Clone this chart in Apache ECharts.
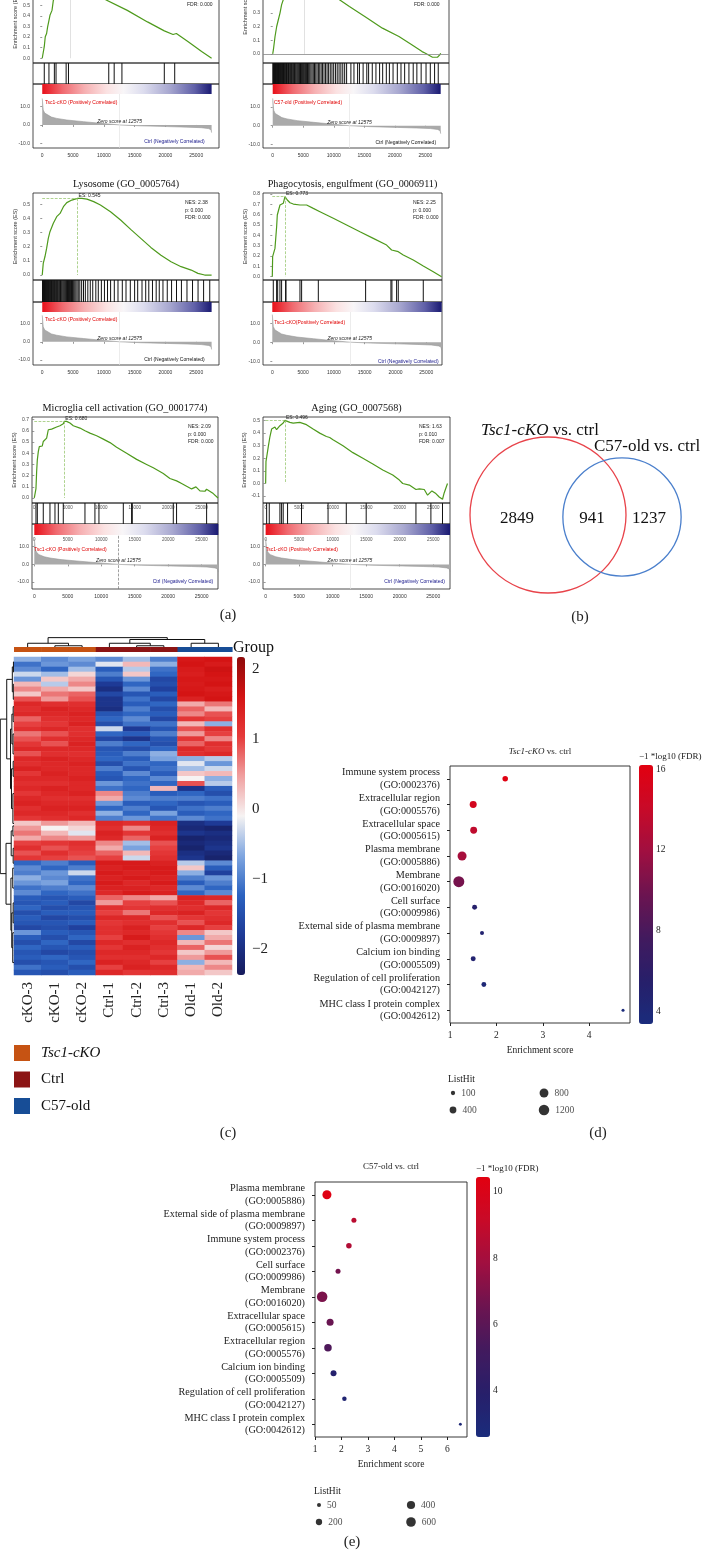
<!DOCTYPE html>
<html><head><meta charset="utf-8">
<script src="https://cdn.jsdelivr.net/npm/echarts@6/dist/echarts.min.js"></script>
<style>html,body{margin:0;padding:0;background:#fff}#c{width:709px;height:1557px}</style>
</head><body><div id="c"></div>
<script>
// ================= DATA =================
// (a) GSEA running enrichment score curves [rank, ES]
const esTscTop = [[0,0],[164,0.01],[328,0.109],[491,0.203],[710,0.234],[874,0.297],[1092,0.359],[1256,0.406],[1420,0.422],[1584,0.453],[1802,0.547],[2400,0.63],[3300,0.68],[4500,0.72],[6000,0.69],[8000,0.625],[10538,0.547],[13812,0.453],[17088,0.344],[19820,0.259],[21240,0.225],[21510,0.216],[21780,0.234],[23700,0.156],[25880,0.063],[27500,0]];
const hitsTscTop = [330,1090,1970,2240,3880,4260,10800,11680,12940,19820,21510];
const esOldTop = [[0,0],[108,0.029],[379,0.127],[650,0.2],[920,0.249],[1190,0.298],[1461,0.359],[1731,0.395],[2500,0.46],[3500,0.51],[5200,0.55],[7000,0.52],[9000,0.46],[10928,0.395],[12551,0.346],[15256,0.268],[17961,0.188],[20666,0.127],[22830,0.066],[24453,0.017],[25000,0.005],[26159,-0.024],[26970,-0.024],[27349,-0.007],[27500,0.005]];
const hitsOldTop = [30,90,150,210,270,330,390,450,520,590,660,730,800,870,940,1010,1090,1170,1250,1330,1410,1500,1590,1680,1770,1860,1960,2060,2160,2260,2370,2480,2590,2700,2820,2940,3060,3180,3300,3430,3560,3690,3820,3960,4100,4250,4400,4550,4700,4860,5020,5180,5350,5520,5700,5880,6060,6250,6440,6640,6840,7050,7260,7480,7700,7930,8160,8400,8650,8900,9150,9420,9700,9980,10270,10560,10860,11160,11470,11780,12100,12800,13300,13900,14200,14800,15400,15700,16300,16900,17500,18000,18600,19100,19700,20400,21000,21600,22300,23000,23600,24300,25100,25800,26500,27100];
const esLysosome = [[0,0],[164,0.082],[437,0.129],[710,0.188],[983,0.259],[1256,0.306],[1802,0.365],[2348,0.412],[2894,0.435],[3440,0.482],[3986,0.511],[4805,0.529],[5733,0.541],[6443,0.541],[7262,0.536],[8354,0.518],[9446,0.494],[11084,0.447],[12722,0.388],[14360,0.322],[15998,0.259],[17636,0.195],[19274,0.14],[20912,0.094],[22550,0.059],[24188,0.035],[25280,0.012],[26372,0],[27500,0]];
const hitsLysosome = [40,100,160,220,290,360,430,500,570,640,720,800,880,960,1040,1130,1220,1310,1400,1500,1600,1700,1800,1900,2010,2120,2230,2340,2460,2580,2700,2830,2960,3090,3220,3360,3500,3650,3800,3950,4100,4260,4420,4580,4750,4920,5100,5280,5460,5650,5850,6100,6400,6700,7000,7400,7800,8200,8700,9100,9600,10100,10600,11100,11700,12300,13000,13600,14300,15000,15500,16200,16800,17300,17900,18500,19000,19600,20300,21000,21800,22600,23500,24400,25300,26200,27200];
const esPhago = [[0,0],[54,0.194],[271,0.194],[433,0.274],[595,0.274],[703,0.484],[812,0.597],[1136,0.597],[1244,0.694],[1515,0.71],[1786,0.71],[1894,0.726],[2056,0.774],[2218,0.758],[2435,0.742],[2868,0.716],[3409,0.703],[4491,0.694],[5573,0.694],[6655,0.661],[7737,0.629],[8819,0.597],[9901,0.565],[12065,0.5],[14229,0.435],[16393,0.371],[18557,0.306],[19368,0.258],[20450,0.242],[21262,0.21],[22885,0.161],[24508,0.103],[26131,0.048],[27483,0]];
const hitsPhago = [160,700,870,1240,1510,2160,2220,4490,4760,7470,15150,19260,19420,20180,20450,24510];
const esMicroglia = [[0,0],[199,0],[249,0.084],[349,0.234],[448,0.339],[598,0.414],[747,0.459],[946,0.474],[1195,0.465],[1345,0.505],[1594,0.52],[1843,0.535],[2092,0.61],[2341,0.625],[2590,0.616],[2839,0.625],[3337,0.634],[3835,0.646],[4333,0.664],[4482,0.685],[4831,0.685],[5329,0.67],[5827,0.646],[6823,0.625],[7570,0.601],[8317,0.58],[9313,0.556],[10309,0.526],[11305,0.495],[12301,0.453],[13795,0.399],[15289,0.345],[16783,0.3],[17779,0.27],[19273,0.219],[20269,0.174],[21265,0.153],[22012,0.129],[22759,0.105],[23506,0.081],[24153,0.099],[24751,0.063],[25498,0.06],[25747,0.078],[26743,0.039],[27450,0]];
const hitsMicroglia = [250,450,1340,2340,3090,3590,4330,7570,9060,9660,13300,14540,14640,20770,21260,25750];
const esAging = [[0,0],[50,0.173],[248,0.187],[396,0.293],[545,0.307],[644,0.373],[891,0.432],[1139,0.427],[1386,0.448],[1634,0.427],[1881,0.44],[2129,0.459],[2376,0.467],[2624,0.48],[2871,0.501],[3119,0.493],[3614,0.485],[4109,0.48],[5099,0.485],[6089,0.467],[7079,0.432],[8069,0.4],[9059,0.373],[9554,0.365],[10049,0.347],[11534,0.299],[13019,0.245],[14504,0.2],[15989,0.155],[17474,0.107],[18959,0.067],[19949,0.027],[20444,0],[21434,-0.013],[22424,-0.048],[22919,-0.043],[23661,-0.048],[24156,-0.093],[24800,-0.059],[25394,-0.08],[25889,-0.107],[26384,-0.125],[26631,-0.075],[26879,-0.085],[27126,0]];
const hitsAging = [150,540,2130,2380,2620,3270,5350,9310,12030,15000,22420,24650,26380];
// ranked list metric (shared shape) [rank, metric]
const rankMetric = [[0,14.5],[160,8.2],[400,6.5],[710,5.5],[1500,4.3],[2350,3.6],[4000,2.7],[6700,1.8],[9500,0.9],[12575,0],[16000,-0.5],[20400,-0.9],[23500,-1.2],[25800,-1.5],[27000,-2.0],[27400,-2.6],[27500,-4.2]];
const rankTicks = [0,5000,10000,15000,20000,25000];
const statsTscTop = ['NES: 2.30','p: 0.000','FDR: 0.000'];
const statsOldTop = ['NES: 1.80','p: 0.000','FDR: 0.000'];
const statsLysosome = ['NES: 2.38','p: 0.000','FDR: 0.000'];
const statsPhago = ['NES: 2.25','p: 0.000','FDR: 0.000'];
const statsMicroglia = ['NES: 2.09','p: 0.000','FDR: 0.000'];
const statsAging = ['NES: 1.63','p: 0.010','FDR: 0.007'];

// (b) Venn counts
const vennOnlyCKO = 2849, vennBoth = 941, vennOnlyOld = 1237;
const vennLabels = ['Tsc1-cKO', 'C57-old vs. ctrl'];

// (c) heatmap
const hmSamples = ['cKO-3','cKO-1','cKO-2','Ctrl-1','Ctrl-2','Ctrl-3','Old-1','Old-2'];
const hmGroupOf = [0,0,0,1,1,1,2,2];
const groupNames = ['Tsc1-cKO','Ctrl','C57-old'];
const hmScaleTicks = [-2,-1,0,1,2];
const hmRows = [
[-0.6,-0.9,-0.7,-0.9,-0.5,-1.0,1.55,1.6],[-1.1,-0.8,-0.9,-0.2,0.3,-0.6,1.6,1.5],[-0.9,-1.2,-0.5,-1.3,-0.4,-1.1,1.5,1.65],[-0.3,-0.5,0.1,-1.0,0.2,-1.2,1.45,1.6],[-0.8,0.2,0.4,-1.4,-0.8,-1.6,1.55,1.55],
[0.3,-0.4,0.6,-1.8,-1.2,-1.5,1.5,1.6],[0.6,0.4,0.2,-2.0,-0.9,-1.7,1.55,1.45],[0.2,0.7,0.8,-1.6,-1.4,-1.3,1.6,1.55],[0.9,0.5,0.9,-1.9,-1.1,-1.6,1.4,1.6],
[1.3,1.2,1.2,-1.9,-1.3,-1.2,0.4,0.7],[1.2,1.4,1.3,-2.0,-1.0,-1.5,0.8,0.3],[1.3,1.3,1.4,-1.4,-1.2,-1.3,0.6,0.9],[0.8,1.2,1.3,-1.2,-0.9,-1.6,1.1,1.0],[1.0,1.1,1.4,-1.5,-1.1,-1.1,0.3,-0.6],[1.2,1.3,1.2,-0.3,-1.8,-1.4,0.9,1.2],[0.7,0.9,1.2,-1.2,-1.3,-1.0,0.5,1.0],[0.9,1.2,1.3,-1.6,-1.9,-1.4,1.1,0.6],[1.1,0.9,1.4,-1.0,-1.2,-1.5,0.8,1.2],[1.3,1.3,1.3,-1.4,-1.5,-1.2,1.3,1.1],[0.9,1.2,1.2,-1.3,-1.0,-0.6,1.2,1.3],
[1.3,1.4,1.3,-1.2,-1.3,-0.7,-0.6,-0.4],[1.2,1.3,1.4,-1.5,-1.1,-1.2,-0.2,-0.8],[1.4,1.3,1.3,-1.0,-1.4,-1.1,-0.5,-0.3],[1.1,1.4,1.3,-1.3,-0.9,-1.3,0.2,0.3],[1.3,1.3,1.4,-1.4,-1.2,-0.9,-0.1,-0.6],[1.2,1.2,1.3,-0.8,-1.1,-1.2,0.9,-0.4],
[1.3,1.4,1.3,-1.1,-1.2,0.3,-1.9,-1.3],[1.1,1.3,1.4,0.6,-1.0,-1.3,-1.2,-1.5],[1.3,1.2,1.2,0.4,-0.9,-1.0,-1.0,-1.1],[1.4,1.3,1.3,-0.8,-1.3,-1.2,-1.4,-1.3],[1.2,1.4,1.4,-1.2,-1.0,-1.4,-1.1,-1.0],[1.3,1.3,1.2,-0.6,-1.2,-0.7,-1.3,-1.2],[1.1,1.2,1.3,-1.0,-0.8,-1.1,-0.9,-1.1],
[0.2,0.5,0.3,1.3,1.2,1.4,-2.0,-1.8],[0.5,-0.1,0.1,1.2,0.6,1.3,-2.1,-2.2],[0.7,0.3,-0.2,1.4,1.1,1.2,-1.9,-2.0],[0.4,0.6,0.5,1.3,0.8,1.4,-2.2,-2.1],
[1.0,1.1,1.2,0.6,-0.5,0.9,-2.1,-2.0],[1.2,0.9,1.1,0.4,-0.7,1.0,-2.2,-1.9],[0.9,1.2,1.0,0.8,0.3,1.1,-2.0,-2.1],[1.1,1.0,0.9,1.0,-0.3,1.2,-1.9,-2.2],
[-1.2,-1.0,-1.3,1.5,1.5,1.4,-0.4,-0.9],[-0.9,-1.2,-1.0,1.4,1.5,1.5,0.2,-1.3],[-1.0,-0.8,-0.3,1.5,1.4,1.5,-0.6,-1.7],
[-0.6,-0.9,-1.1,1.4,1.5,1.4,-1.0,-0.8],[-0.8,-0.7,-1.2,1.5,1.3,1.5,-1.3,-1.0],[-1.1,-1.0,-0.9,1.4,1.4,1.3,-0.9,-1.2],[-0.9,-1.2,-1.1,1.3,1.5,1.4,-1.2,-0.9],
[-1.3,-1.4,-1.3,0.8,0.6,0.4,1.4,1.3],[-1.4,-1.3,-1.6,0.5,1.0,0.9,1.3,0.8],[-1.2,-1.5,-1.4,1.2,1.1,1.2,1.2,1.3],[-1.5,-1.3,-1.3,1.0,0.7,1.3,1.4,1.1],[-1.3,-1.6,-1.5,1.3,1.3,0.9,1.1,1.2],[-1.4,-1.4,-1.3,1.1,1.2,1.2,0.9,1.3],[-1.6,-1.5,-1.7,1.2,1.4,1.0,1.3,1.0],
[-0.8,-1.3,-1.4,1.2,1.3,1.1,0.6,0.2],[-1.3,-1.5,-1.2,1.0,1.5,1.2,-0.8,0.4],[-1.5,-1.2,-1.6,1.3,1.2,1.3,0.3,0.7],[-1.2,-1.4,-1.3,1.1,1.4,1.2,0.8,0.1],[-1.4,-1.6,-1.5,1.3,1.3,1.1,0.2,0.5],[-1.3,-1.2,-1.4,1.2,1.2,1.3,0.5,0.9],[-1.5,-1.4,-1.2,1.4,1.3,1.0,-0.6,0.3],[-1.1,-1.3,-1.5,1.0,1.4,1.3,0.3,0.6],[-1.4,-1.5,-1.3,1.3,1.1,1.2,0.4,0.2]
];
// dendrograms: [from, to, height, heightFrom, heightTo]
const rowDendro = [[0.5,2.5,0.4,0,0],[5,8,0.5,0,0],[9.5,12.5,0.6,0,0],[15,19,0.7,0,0],[20.5,23.5,0.6,0,0],[27,33,0.8,0,0],[33.5,35.5,0.8,0,0],[38,41,0.6,0,0],[42,46,0.9,0,0],[49,53,0.6,0,0],[55,61,0.9,0,0],
  [1.5,6.5,1.2,0.4,0.5],[11,17,1.5,0.6,0.7],[22,30,1.8,0.6,0.8],[14,26,2.5,1.5,1.8],[4,20,5.2,1.2,2.5],[34.5,39.5,2.0,0.8,0.6],[51,58,1.6,0.6,0.9],[44,54.5,2.2,0.9,1.6],[37,49.25,5.7,2.0,2.2],[12,43.1,9.8,5.2,5.7]];
const colDendro = [[1,2,0.4,0,0],[0,1.5,1.2,0,0.4],[4,5,0.4,0,0],[3,4.5,1.2,0,0.4],[6,7,1.2,0,0],[3.75,6.5,2.4,1.2,1.2],[0.75,5.125,3.0,1.2,2.4]];

// (d) Tsc1-cKO vs ctrl GO enrichment
const dTerms = ['Immune system process','Extracellular region','Extracellular space','Plasma membrane','Membrane','Cell surface','External side of plasma membrane','Calcium ion binding','Regulation of cell proliferation','MHC class I protein complex'];
const dGO = ['GO:0002376','GO:0005576','GO:0005615','GO:0005886','GO:0016020','GO:0009986','GO:0009897','GO:0005509','GO:0042127','GO:0042612'];
const dScore = [2.19,1.50,1.51,1.26,1.19,1.53,1.69,1.50,1.73,4.73];
const dFDR = [16.0,15.0,13.6,12.3,10.2,5.3,4.9,4.8,4.1,3.6];
const dHit = [220,430,410,830,1350,160,80,160,150,25];
const dFdrTicks = [4,8,12,16];
const dHitLegend = [[0,0,100],[0,1,400],[1,0,800],[1,1,1200]];
// (e) C57-old vs ctrl
const eTerms = ['Plasma membrane','External side of plasma membrane','Immune system process','Cell surface','Membrane','Extracellular space','Extracellular region','Calcium ion binding','Regulation of cell proliferation','MHC class I protein complex'];
const eGO = ['GO:0005886','GO:0009897','GO:0002376','GO:0009986','GO:0016020','GO:0005615','GO:0005576','GO:0005509','GO:0042127','GO:0042612'];
const eScore = [1.45,2.47,2.28,1.87,1.27,1.57,1.49,1.70,2.11,6.49];
const eFDR = [10.3,8.7,8.4,6.7,6.9,6.4,5.6,3.7,3.3,3.0];
const eHit = [510,100,135,100,740,265,320,170,70,14];
const eFdrTicks = [4,6,8,10];
const eHitLegend = [[0,0,50],[0,1,200],[1,0,400],[1,1,600]];

// ================= BUILD =================
const SERIF = '"Liberation Serif","DejaVu Serif",serif';
const SANS = '"Liberation Sans","DejaVu Sans",sans-serif';
const grids=[], xAxes=[], yAxes=[], series=[], graphics=[], visualMaps=[];
function addGrid(g, xa, ya){
  const gi = grids.length;
  grids.push(Object.assign({outerBoundsMode:'none', containLabel:false}, g));
  xa.gridIndex = gi; ya.gridIndex = gi;
  const xi = xAxes.push(xa)-1, yi = yAxes.push(ya)-1;
  return {g:gi, x:xi, y:yi};
}
function txt(x, y, text, o){
  graphics.push({type:'text', x:x, y:y, silent:true, z:50, style:Object.assign({text:text, fill:'#222', fontSize:10, fontFamily:SERIF, align:'left', verticalAlign:'middle'}, o||{})});
}
const rankEnd = 27500;
const plain = v=>String(v);
const cbStops=[{offset:0,color:'#e8101a'},{offset:0.12,color:'#f06a70'},{offset:0.25,color:'#f6b0b2'},{offset:0.38,color:'#fbe2e2'},{offset:0.48,color:'#f8f6f8'},{offset:0.6,color:'#dcdcee'},{offset:0.75,color:'#a8a8d0'},{offset:0.9,color:'#6060a8'},{offset:1,color:'#1a1a72'}];

function gsea(p){
  const bd = {show:true, borderColor:'#222', borderWidth:0.8};
  const es = addGrid(Object.assign({left:p.left, top:p.esTop, width:p.width, height:p.esBottom-p.esTop}, bd),
    {type:'value', min:p.xMin, max:p.xMax, splitLine:{show:false}, axisLine:{show:false}, axisTick:{show:false}, axisLabel:{show:false}},
    {type:'value', min:p.esMin, max:p.esMax, splitLine:{show:false}, axisLine:{show:false},
     axisTick:{show:true, customValues:p.esTicks, length:2, lineStyle:{color:'#555', width:0.6}},
     axisLabel:{show:true, customValues:p.esTicks, formatter:v=>v.toFixed(1), fontSize:5, color:'#444', margin:3, fontFamily:SANS},
     name:'Enrichment score (ES)', nameLocation:'middle', nameGap:15, nameTextStyle:{fontSize:5.5, color:'#333', fontFamily:SANS}});
  const ml = [];
  if (p.zeroLine) ml.push({yAxis:0, lineStyle:{color:'#888', width:0.8, type:'solid'}});
  ml.push([{coord:[0,p.peak[1]]},{coord:[p.peak[0],p.peak[1]]}]);
  ml.push([{coord:[p.peak[0],p.peak[1]]},{coord:[p.peak[0],0]}]);
  const s = {type:'line', xAxisIndex:es.x, yAxisIndex:es.y, data:p.curve, symbol:'none', silent:true,
    lineStyle:{color:'#4e9a1c', width:1.2},
    markLine:{silent:true, symbol:'none', label:{show:false}, lineStyle:{color:p.peakColor, type:p.peakType, width:0.7}, data:ml}};
  if (p.esLabel) s.markPoint = {symbol:'circle', symbolSize:0.1, itemStyle:{color:'transparent'}, silent:true,
    data:[{coord:p.peak, label:{show:true, position:'right', distance:1, offset:[0,-3], formatter:p.esLabel, fontSize:5, color:'#222', fontFamily:SANS}}]};
  series.push(s);
  // hits
  const h = addGrid(Object.assign({left:p.left, top:p.esBottom, width:p.width, height:p.hitsBottom-p.esBottom}, bd),
    {type:'value', min:p.xMin, max:p.xMax, show:!!p.innerTicks, position:'top', splitLine:{show:false}, axisLine:{show:false}, axisTick:{show:false},
     axisLabel:{inside:true, customValues:rankTicks, formatter:plain, fontSize:4.5, color:'#555', margin:2, fontFamily:SANS}},
    {type:'value', min:0, max:1, show:false});
  series.push({type:'custom', xAxisIndex:h.x, yAxisIndex:h.y, data:p.hits.map(r=>[r,0]), silent:true,
    renderItem:(params, api)=>{ const a=api.coord([api.value(0),0]), b=api.coord([api.value(0),1]);
      return {type:'line', shape:{x1:a[0],y1:a[1],x2:b[0],y2:b[1]}, style:{stroke:'#111', lineWidth:1}}; }});
  // ranked list
  const rk = addGrid(Object.assign({left:p.left, top:p.hitsBottom, width:p.width, height:p.rankBottom-p.hitsBottom}, bd),
    {type:'value', min:p.xMin, max:p.xMax, splitLine:{show:false}, axisLine:{show:false},
     axisTick:{show:true, customValues:rankTicks, length:2, lineStyle:{color:'#555', width:0.6}},
     axisLabel:{customValues:rankTicks, formatter:plain, fontSize:5, color:'#333', margin:5, fontFamily:SANS}},
    {type:'value', min:p.rMin, max:p.rMax, splitLine:{show:false}, axisLine:{show:false},
     axisTick:{show:true, customValues:[10,0,-10], length:2, lineStyle:{color:'#555', width:0.6}},
     axisLabel:{customValues:[10,0,-10], formatter:v=>v.toFixed(1), fontSize:5, color:'#444', margin:3, fontFamily:SANS}});
  if (p.innerTicks) xAxes.push({gridIndex:rk.g, type:'value', min:p.xMin, max:p.xMax, position:'top', splitLine:{show:false}, axisLine:{show:false}, axisTick:{show:false},
     axisLabel:{inside:true, customValues:rankTicks, formatter:plain, fontSize:4.5, color:'#555', margin:13, fontFamily:SANS}});
  series.push({type:'line', xAxisIndex:rk.x, yAxisIndex:rk.y, data:rankMetric, symbol:'none', silent:true,
    lineStyle:{color:'#999', width:0.6}, areaStyle:{color:'#aaaaaa', opacity:1},
    markLine:{silent:true, symbol:'none', label:{show:false}, data:[{xAxis:12575, lineStyle:p.zeroDash?{color:'#777', type:'dashed', width:0.7}:{color:'#e4e4e4', type:'solid', width:0.7}}]},
    markPoint:{symbol:'circle', symbolSize:0.1, itemStyle:{color:'transparent'}, silent:true, data:[
      {coord:p.posAt, label:{show:true, position:'right', distance:0, formatter:p.posText, fontSize:5, color:'#e00000', fontFamily:SANS}},
      {coord:[12575,0], label:{show:true, position:'top', distance:1, formatter:'Zero score at 12575', fontSize:5, color:'#222', fontStyle:'italic', fontFamily:SANS}},
      {coord:p.negAt, label:{show:true, position:'left', distance:0, formatter:p.negText, fontSize:5, color:p.negColor, fontFamily:SANS}}]}});
  series.push({type:'custom', xAxisIndex:rk.x, yAxisIndex:rk.y, data:[[0,p.rMax]], silent:true, z:5,
    renderItem:(params, api)=>{ const a=api.coord([0,p.rMax]), b=api.coord([rankEnd,p.rMax]);
      return {type:'rect', shape:{x:a[0], y:a[1], width:b[0]-a[0], height:p.cbH}, style:{fill:new echarts.graphic.LinearGradient(0,0,1,0,cbStops)}}; }});
  if (p.title) txt(p.left+p.width/2, p.titleY, p.title, {align:'center', fontSize:10.2, fill:'#111'});
  txt(p.statsX, p.statsY, p.stats.join('\n'), {fontSize:5, lineHeight:7.5, verticalAlign:'top', fontFamily:SANS});
}
const esT = [0,0.1,0.2,0.3,0.4,0.5,0.6,0.7];
const faint = {peakColor:'#d4d4d4', peakType:'solid'}, dash = {peakColor:'#8cc060', peakType:'dashed'};
gsea(Object.assign({left:33, width:186, esTop:-21, esBottom:63, esMin:-0.045, esMax:0.75, esTicks:esT, xMin:-1500, xMax:28700, hitsBottom:84, rankBottom:148, rMin:-12.6, rMax:22.4, cbH:10,
  curve:esTscTop, hits:hitsTscTop, peak:[4500,0.72], stats:statsTscTop, statsX:187, statsY:-14,
  posText:'Tsc1-cKO (Positively Correlated)', posAt:[450,12], negText:'Ctrl (Negatively Correlated)', negAt:[26400,-9.3], negColor:'#1a1a8c'}, faint));
gsea(Object.assign({left:263, width:186, esTop:-49, esBottom:63, esMin:-0.066, esMax:0.75, esTicks:esT, xMin:-1590, xMax:28860, hitsBottom:84, rankBottom:148, rMin:-11.8, rMax:22.1, cbH:10, zeroLine:true,
  curve:esOldTop, hits:hitsOldTop, peak:[5200,0.55], stats:statsOldTop, statsX:414, statsY:-14,
  posText:'C57-old (Positively Correlated)', posAt:[200,12.2], negText:'Ctrl (Negatively Correlated)', negAt:[26750,-8.8], negColor:'#111'}, faint));
gsea(Object.assign({left:33, width:186, esTop:193, esBottom:280, esMin:-0.035, esMax:0.579, esTicks:[0,0.1,0.2,0.3,0.4,0.5], xMin:-1500, xMax:28700, hitsBottom:302, rankBottom:365, rMin:-12.7, rMax:21.8, cbH:10,
  curve:esLysosome, hits:hitsLysosome, peak:[5733,0.541], esLabel:'ES: 0.545', stats:statsLysosome, statsX:185, statsY:199,
  title:'Lysosome (GO_0005764)', titleY:184,
  posText:'Tsc1-cKO (Positively Correlated)', posAt:[450,12.4], negText:'Ctrl (Negatively Correlated)', negAt:[26400,-10], negColor:'#111'}, dash));
gsea(Object.assign({left:263, width:179, esTop:193, esBottom:280, esMin:-0.032, esMax:0.81, esTicks:[0,0.1,0.2,0.3,0.4,0.5,0.6,0.7,0.8], xMin:-1510, xMax:27550, hitsBottom:302, rankBottom:365, rMin:-12, rMax:21.1, cbH:10,
  curve:esPhago, hits:hitsPhago, peak:[2056,0.774], esLabel:'ES: 0.773', stats:statsPhago, statsX:413, statsY:199,
  title:'Phagocytosis, engulfment (GO_0006911)', titleY:184,
  posText:'Tsc1-cKO(Positively Correlated)', posAt:[300,10.2], negText:'Ctrl (Negatively Correlated)', negAt:[27000,-10], negColor:'#1a1a8c'}, dash));
gsea(Object.assign({left:32, width:186, esTop:417, esBottom:503, esMin:-0.045, esMax:0.724, esTicks:[0,0.1,0.2,0.3,0.4,0.5,0.6,0.7], xMin:-344, xMax:27450, hitsBottom:524, rankBottom:589, rMin:-13.9, rMax:22.8, cbH:11, innerTicks:true, zeroDash:true,
  curve:esMicroglia, hits:hitsMicroglia, peak:[4482,0.685], esLabel:'ES: 0.680', stats:statsMicroglia, statsX:188, statsY:423,
  title:'Microglia cell activation (GO_0001774)', titleY:408,
  posText:'Tsc1-cKO (Positively Correlated)', posAt:[0,8.1], negText:'Ctrl (Negatively Correlated)', negAt:[26750,-10], negColor:'#1a1a8c'}, dash));
gsea(Object.assign({left:263, width:187, esTop:417, esBottom:503, esMin:-0.155, esMax:0.528, esTicks:[-0.1,0,0.1,0.2,0.3,0.4,0.5], xMin:-394, xMax:27500, hitsBottom:524, rankBottom:589, rMin:-13.9, rMax:22.8, cbH:11, innerTicks:true,
  curve:esAging, hits:hitsAging, peak:[2871,0.501], esLabel:'ES: 0.496', stats:statsAging, statsX:419, statsY:423,
  title:'Aging (GO_0007568)', titleY:408,
  posText:'Tsc1-cKO (Positively Correlated)', posAt:[0,8.1], negText:'Ctrl (Negatively Correlated)', negAt:[26750,-10], negColor:'#1a1a8c'}, dash));
txt(228, 615, '(a)', {align:'center', fontSize:15});

// ---------- (b) Venn ----------
const vennK = 1.267;
const rA = vennK*Math.sqrt(vennOnlyCKO+vennBoth), rB = vennK*Math.sqrt(vennOnlyOld+vennBoth);
graphics.push({type:'circle', silent:true, shape:{cx:548, cy:515, r:rA}, style:{fill:'none', stroke:'#e8434a', lineWidth:1.3}});
graphics.push({type:'circle', silent:true, shape:{cx:622, cy:517, r:rB}, style:{fill:'none', stroke:'#4a7fcc', lineWidth:1.3}});
txt(540, 431, '{i|'+vennLabels[0]+'}{n| vs. ctrl}', {align:'center', fontSize:17, rich:{i:{fontStyle:'italic', fontSize:17, fontFamily:SERIF, fill:'#111'}, n:{fontSize:17, fontFamily:SERIF, fill:'#111'}}});
txt(647, 447, vennLabels[1], {align:'center', fontSize:17, fill:'#111'});
txt(517, 519, String(vennOnlyCKO), {align:'center', fontSize:17, fill:'#111'});
txt(592, 519, String(vennBoth), {align:'center', fontSize:17, fill:'#111'});
txt(649, 519, String(vennOnlyOld), {align:'center', fontSize:17, fill:'#111'});
txt(580, 617, '(b)', {align:'center', fontSize:15});

// ---------- (c) heatmap ----------
const groupColors = ['#c65313','#8c1414','#174d96'];
const hm = addGrid({left:14, top:657, width:218, height:318},
  {type:'category', data:hmSamples, axisLine:{show:false}, axisTick:{show:false}, splitLine:{show:false},
   axisLabel:{rotate:90, fontSize:15, fontFamily:SERIF, color:'#222', margin:7}},
  {type:'category', data:hmRows.map((_,i)=>i), inverse:true, show:false});
const hmData = [];
hmRows.forEach((row,r)=>row.forEach((v,c)=>hmData.push([c,r,v])));
const hmSeriesIdx = series.length;
series.push({type:'heatmap', xAxisIndex:hm.x, yAxisIndex:hm.y, data:hmData, silent:true, progressive:0});
visualMaps.push({type:'continuous', min:-2.37, max:2.17, dimension:2, seriesIndex:[hmSeriesIdx], calculable:false, show:true,
  itemWidth:8, itemHeight:318, left:237, top:657, padding:0, text:null, hoverLink:false,
  inRange:{color:['#161a5c','#1e3a96','#2b62c0','#7fa6e0','#f6f3f3','#f0a0a0','#e53a3a','#d41414','#8e0b0b']}});
addGrid({left:237, top:657, width:8, height:318},
  {type:'value', show:false, min:0, max:1},
  {type:'value', position:'right', min:-2.37, max:2.17, splitLine:{show:false}, axisLine:{show:false}, axisTick:{show:false},
   axisLabel:{customValues:hmScaleTicks, formatter:v=>v<0?'\u2212'+Math.abs(v):String(v), fontSize:15, fontFamily:SERIF, color:'#222', margin:7}});
const grp = addGrid({left:14, top:647, width:218, height:5},
  {type:'category', data:hmSamples, show:false}, {type:'value', min:0, max:1, show:false});
series.push({type:'custom', xAxisIndex:grp.x, yAxisIndex:grp.y, silent:true, data:hmSamples.map((s,i)=>[i,hmGroupOf[i]]),
  renderItem:(params, api)=>{ const c=api.coord([api.value(0),1]); const w=api.size([1,0])[0]; const hh=api.size([0,1])[1];
    return {type:'rect', shape:{x:c[0]-w/2, y:c[1], width:w+0.6, height:hh}, style:{fill:groupColors[api.value(1)]}}; }});
const rd = addGrid({left:0, top:657, width:14, height:318},
  {type:'value', min:0, max:10, inverse:true, show:false}, {type:'value', min:-0.5, max:63.5, inverse:true, show:false});
series.push({type:'custom', xAxisIndex:rd.x, yAxisIndex:rd.y, silent:true, data:rowDendro,
  renderItem:(params, api)=>{ const a=api.value(0), b=api.value(1), hgt=api.value(2), ha=api.value(3), hb=api.value(4);
    return {type:'polyline', shape:{points:[api.coord([ha,a]),api.coord([hgt,a]),api.coord([hgt,b]),api.coord([hb,b])]}, style:{stroke:'#111', lineWidth:1, fill:null}}; }});
const cd = addGrid({left:14, top:637, width:218, height:10},
  {type:'value', min:-0.5, max:7.5, show:false}, {type:'value', min:0, max:3.2, show:false});
series.push({type:'custom', xAxisIndex:cd.x, yAxisIndex:cd.y, silent:true, data:colDendro,
  renderItem:(params, api)=>{ const a=api.value(0), b=api.value(1), hgt=api.value(2), ha=api.value(3), hb=api.value(4);
    return {type:'polyline', shape:{points:[api.coord([a,ha]),api.coord([a,hgt]),api.coord([b,hgt]),api.coord([b,hb])]}, style:{stroke:'#111', lineWidth:1, fill:null}}; }});
txt(233, 648, 'Group', {fontSize:16, fill:'#111'});
groupNames.forEach((g,i)=>{
  graphics.push({type:'rect', silent:true, shape:{x:14, y:1045+i*26.5, width:16, height:16}, style:{fill:groupColors[i]}});
  txt(41, 1053+i*26.5, g, {fontSize:15, fill:'#111', fontStyle:i===0?'italic':'normal'});
});
txt(228, 1133, '(c)', {align:'center', fontSize:15});

// ---------- (d), (e) dot plots ----------
function dotPlot(c){
  const g = addGrid({left:c.left, top:c.top, width:c.width, height:c.height, show:true, borderColor:'#222', borderWidth:0.9},
    {type:'value', min:1, max:c.xMax, splitLine:{show:false}, axisLine:{show:false},
     axisTick:{show:true, customValues:c.xTicks, length:3, lineStyle:{color:'#222'}},
     axisLabel:{customValues:c.xTicks, fontSize:9.5, fontFamily:SERIF, color:'#222', margin:7},
     name:'Enrichment score', nameLocation:'middle', nameGap:22, nameTextStyle:{fontSize:9.5, fontFamily:SERIF, color:'#222'}},
    {type:'category', data:c.terms.map((t,i)=>t+'\n('+c.go[i]+')'), inverse:true, axisLine:{show:false},
     axisTick:{show:true, alignWithLabel:true, length:3, lineStyle:{color:'#222'}},
     axisLabel:{fontSize:10.2, lineHeight:12.6, fontFamily:SERIF, color:'#222', margin:10}});
  const si = series.length;
  series.push({type:'scatter', xAxisIndex:g.x, yAxisIndex:g.y, silent:true,
    data:c.terms.map((t,i)=>[c.score[i], i, c.fdr[i], c.hit[i]]), symbolSize:v=>c.sizeFn(v[3]), itemStyle:{opacity:1}});
  visualMaps.push({type:'continuous', min:c.fMin, max:c.fMax, dimension:2, seriesIndex:[si], calculable:false, show:true,
    itemWidth:14, itemHeight:c.cbH, left:c.cbLeft, top:c.cbTop, padding:0, text:null, hoverLink:false,
    inRange:{color:['#1a2c7c','#271f6a','#421a5e','#6c1450','#a00f40','#c80a28','#e20010']}});
  addGrid({left:c.cbLeft, top:c.cbTop, width:14, height:c.cbH},
    {type:'value', show:false, min:0, max:1},
    {type:'value', position:'right', min:c.fMin, max:c.fMax, z:10, splitLine:{show:false}, axisLine:{show:false},
     axisTick:{show:true, inside:true, customValues:c.fTicks, length:3, lineStyle:{color:'#fff', width:1}},
     axisLabel:{customValues:c.fTicks, fontSize:9.5, fontFamily:SERIF, color:'#222', margin:3}});
  txt(c.cbLeft, c.cbTop-8, '\u22121 *log10 (FDR)', {fontSize:9, fontFamily:SERIF});
  txt(c.left+c.width/2, c.titleY, c.title, c.titleOpt);
  const lg = addGrid({left:c.lgLeft, top:c.lgTop, width:c.lgW, height:17},
    {type:'value', min:0, max:1, show:false}, {type:'value', min:0, max:1, inverse:true, show:false});
  series.push({type:'scatter', xAxisIndex:lg.x, yAxisIndex:lg.y, silent:true, data:c.legend, symbolSize:v=>c.sizeFn(v[2]),
    itemStyle:{color:'#000'}, label:{show:true, position:'right', distance:6, formatter:p=>String(p.value[2]), fontSize:9.5, fontFamily:SERIF, color:'#222'}});
  txt(c.lgLeft-5, c.lgTop-14, 'ListHit', {fontSize:9.5});
}
dotPlot({left:450, top:766, width:180, height:257, xMax:4.88, xTicks:[1,2,3,4],
  terms:dTerms, go:dGO, score:dScore, fdr:dFDR, hit:dHit, sizeFn:h=>1.8+0.25*Math.sqrt(h),
  fMin:3.4, fMax:16.2, fTicks:dFdrTicks, cbLeft:639, cbTop:765, cbH:259,
  title:'{i|Tsc1-cKO}{n| vs. ctrl}', titleY:752, titleOpt:{align:'center', fontSize:9, rich:{i:{fontStyle:'italic', fontSize:9, fontFamily:SERIF, fill:'#222'}, n:{fontSize:9, fontFamily:SERIF, fill:'#222'}}},
  lgLeft:453, lgTop:1093, lgW:91, legend:dHitLegend});
txt(598, 1133, '(d)', {align:'center', fontSize:15});
dotPlot({left:315, top:1182, width:152, height:255, xMax:6.74, xTicks:[1,2,3,4,5,6],
  terms:eTerms, go:eGO, score:eScore, fdr:eFDR, hit:eHit, sizeFn:h=>1.8+0.32*Math.sqrt(h),
  fMin:2.6, fMax:10.45, fTicks:eFdrTicks, cbLeft:476, cbTop:1177, cbH:260,
  title:'C57-old vs. ctrl', titleY:1167, titleOpt:{align:'center', fontSize:9},
  lgLeft:319, lgTop:1505, lgW:92, legend:eHitLegend});
txt(352, 1542, '(e)', {align:'center', fontSize:15});

const chart = echarts.init(document.getElementById('c'), null, {renderer:'canvas'});
chart.setOption({
  backgroundColor:'#fff', animation:false, textStyle:{fontFamily:SERIF},
  grid:grids, xAxis:xAxes, yAxis:yAxes, series:series, visualMap:visualMaps,
  graphic:{elements:graphics}
});
</script></body></html>
